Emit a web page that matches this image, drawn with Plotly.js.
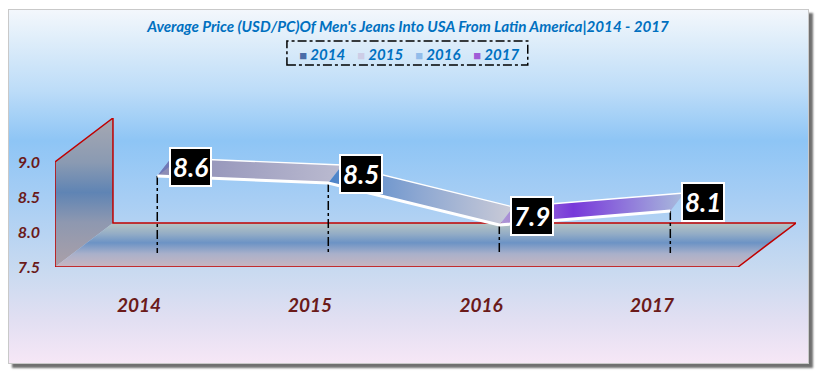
<!DOCTYPE html>
<html><head><meta charset="utf-8">
<script src="https://cdn.plot.ly/plotly-3.0.1.min.js"></script>
<style>
html,body{margin:0;padding:0;background:#fff;width:820px;height:377px;overflow:hidden;}
#frame{position:absolute;left:8px;top:9px;width:799px;height:353px;border:1px solid #c9c9c9;box-shadow:4px 4px 2px #707070;
background:linear-gradient(to bottom,#F3F7FC 0%,#E0EEFA 8%,#BCDCF8 23%,#8EC5F5 37%,#A8CEF4 54%,#C9DAF0 74%,#E2DFF2 88%,#F6E7F6 100%);}
#chart{position:absolute;left:0;top:0;width:820px;height:377px;}
</style></head>
<body><div id="frame"></div><div id="chart"></div>
<script>
// ---- data ----
const categories = ['2014', '2015', '2016', '2017'];
const prices = [8.6, 8.5, 7.9, 8.1];
const legendColors = ['#4A6CA8', '#CDCDE6', '#92BCEA', '#A05CD8'];
const yTickVals = [7.5, 8.0, 8.5, 9.0];
const chartTitle = "Average Price (USD/PC)Of Men's Jeans Into USA From Latin America|2014 - 2017";

// ---- pseudo-3D geometry (axis units) ----
const X_MIN = -0.491, X_MAX = 3.842, Y_MIN = 7.5, Y_MAX = 9.6286;
const X0 = -0.491, X1 = 3.503, WALL_TOP = 9.0;
const DX = 0.339, DY = 0.6286;          // full depth offset
const FX = 0.107, FY = 0.2;             // ribbon front edge depth offset
const BX = 0.082, BY = 0.257;           // ribbon width (front -> back)

const FONT = 'Lato, "Open Sans", sans-serif';
const traces = [];

// left wall
traces.push({
  x: [X0, X0, X0 + DX, X0 + DX, X0], y: [Y_MIN, WALL_TOP, WALL_TOP + DY, Y_MIN + DY, Y_MIN],
  mode: 'lines', fill: 'toself', line: {width: 0}, showlegend: false, hoverinfo: 'skip',
  fillgradient: {type: 'vertical', start: Y_MIN, stop: WALL_TOP + DY,
    colorscale: [[0, '#ABA0A8'], [0.3, '#8E98B0'], [0.5, '#5F84B4'], [0.7, '#8A9AB2'], [1, '#A6A8B2']]}
});
// floor
traces.push({
  x: [X0, X1, X1 + DX, X0 + DX, X0], y: [Y_MIN, Y_MIN, Y_MIN + DY, Y_MIN + DY, Y_MIN],
  mode: 'lines', fill: 'toself', line: {width: 0}, showlegend: false, hoverinfo: 'skip',
  fillgradient: {type: 'vertical', start: Y_MIN, stop: Y_MIN + DY,
    colorscale: [[0, '#C8B6C0'], [0.3, '#A9B0CA'], [0.55, '#6C93C5'], [0.75, '#93ACC6'], [1, '#B6C5C3']]}
});
// red outline
traces.push({
  x: [X0, X0, X0 + DX, X0 + DX, X1 + DX, X1, X0],
  y: [Y_MIN, WALL_TOP, WALL_TOP + DY, Y_MIN + DY, Y_MIN + DY, Y_MIN, Y_MIN],
  mode: 'lines', line: {color: '#C00000', width: 1.5}, showlegend: false, hoverinfo: 'skip'
});
// drop lines
const dropX = [], dropY = [];
prices.forEach((v, i) => { dropX.push(i + FX, i + FX, null); dropY.push(v + FY, Y_MIN + FY, null); });
traces.push({x: dropX, y: dropY, mode: 'lines', line: {color: '#000', width: 1.5, dash: 'dashdot'},
  showlegend: false, hoverinfo: 'skip'});

// ribbon segments
const segScales = [
  [[0, '#8A8AB4'], [1, '#BBBBD0']],
  [[0, '#4A82C8'], [0.5, '#8EA8D2'], [1, '#CBCBD7']],
  [[0, '#B09AD4'], [0.4, '#7838DA'], [1, '#A9BCDC']]
];
for (let i = 0; i < prices.length - 1; i++) {
  const xa = i + FX, xb = i + 1 + FX;
  traces.push({
    x: [xa, xb, xb + BX, xa + BX, xa],
    y: [prices[i] + FY, prices[i + 1] + FY, prices[i + 1] + FY + BY, prices[i] + FY + BY, prices[i] + FY],
    mode: 'lines', fill: 'toself', line: {width: 0}, showlegend: false, hoverinfo: 'skip',
    fillgradient: {type: 'horizontal', start: xa, stop: xb + BX, colorscale: segScales[i]}
  });
}
// ribbon start cap
traces.push({
  x: [FX, FX + BX, FX + BX, FX], y: [prices[0] + FY, prices[0] + FY + BY, prices[0] + FY + BY * 0.6, prices[0] + FY],
  mode: 'lines', fill: 'toself', fillcolor: '#6F78B8', line: {width: 0}, showlegend: false, hoverinfo: 'skip'
});
// ribbon edges
traces.push({x: categories.map((c, i) => i + FX), y: prices.map(v => v + FY), mode: 'lines',
  line: {color: '#FFFFFF', width: 3}, showlegend: false, hoverinfo: 'skip'});
traces.push({x: categories.map((c, i) => i + FX + BX), y: prices.map(v => v + FY + BY), mode: 'lines',
  line: {color: '#FFFFFF', width: 1.3}, showlegend: false, hoverinfo: 'skip'});

// legend entries (colour key drawn in the entry text, compact like the original)
categories.forEach((c, i) => traces.push({
  x: [null], y: [null], mode: 'markers', type: 'scatter',
  name: '<span style="color:' + legendColors[i] + ';font-size:13px;font-style:normal">■</span> ' + c,
  marker: {size: 1, color: 'rgba(0,0,0,0)'}
}));
// spacer entry so the last legend label is not clipped
traces.push({x: [null], y: [null], name: ' ', mode: 'markers', type: 'scatter',
  marker: {size: 1, color: 'rgba(0,0,0,0)'}});

const annotations = prices.map((v, i) => ({
  x: i + FX, y: v + FY, xref: 'x', yref: 'y', text: v.toFixed(1), showarrow: false,
  xshift: 33, yshift: 9, bgcolor: '#000000', bordercolor: '#FFFFFF', borderwidth: 2, borderpad: 2,
  font: {family: FONT, size: 26, color: '#FFFFFF', weight: 'bold', style: 'italic'}
}));

const layout = {
  width: 820, height: 377,
  margin: {l: 55, r: 24, t: 118, b: 110},
  paper_bgcolor: 'rgba(0,0,0,0)', plot_bgcolor: 'rgba(0,0,0,0)',
  title: {text: chartTitle, x: 0.4976, xref: 'container', xanchor: 'center', y: 0.93, yanchor: 'middle',
    font: {family: FONT, size: 15.2, color: '#0070C0', weight: 'bold', style: 'italic'}},
  xaxis: {range: [X_MIN, X_MAX], tickvals: categories.map((c, i) => i), ticktext: categories,
    showgrid: false, zeroline: false, showline: false, ticks: '', ticklabelstandoff: 25,
    tickfont: {family: FONT, size: 19, color: '#6B1A1A', weight: 'bold', style: 'italic'}, fixedrange: true},
  yaxis: {range: [Y_MIN, Y_MAX], tickvals: yTickVals, tickformat: '.1f',
    showgrid: false, zeroline: false, showline: false, ticks: '', ticklabelstandoff: 14,
    tickfont: {family: FONT, size: 16, color: '#6B1A1A', weight: 'bold', style: 'italic'}, fixedrange: true},
  legend: {orientation: 'h', x: 0.2755, xanchor: 'left', y: 1.425, yanchor: 'middle',
    bgcolor: 'rgba(0,0,0,0)', itemwidth: 30, entrywidth: 13, itemclick: false, itemdoubleclick: false,
    font: {family: FONT, size: 15, color: '#0070C0', weight: 'bold', style: 'italic'}},
  shapes: [{type: 'rect', xref: 'paper', yref: 'paper', x0: 0.313, x1: 0.638, y0: 1.356, y1: 1.517,
    line: {color: '#000', width: 1.5, dash: 'dashdot'}, fillcolor: 'rgba(0,0,0,0)'}],
  annotations: annotations,
  hovermode: false, showlegend: true
};

Plotly.newPlot('chart', traces, layout, {displayModeBar: false, staticPlot: true});
</script>
</body></html>
